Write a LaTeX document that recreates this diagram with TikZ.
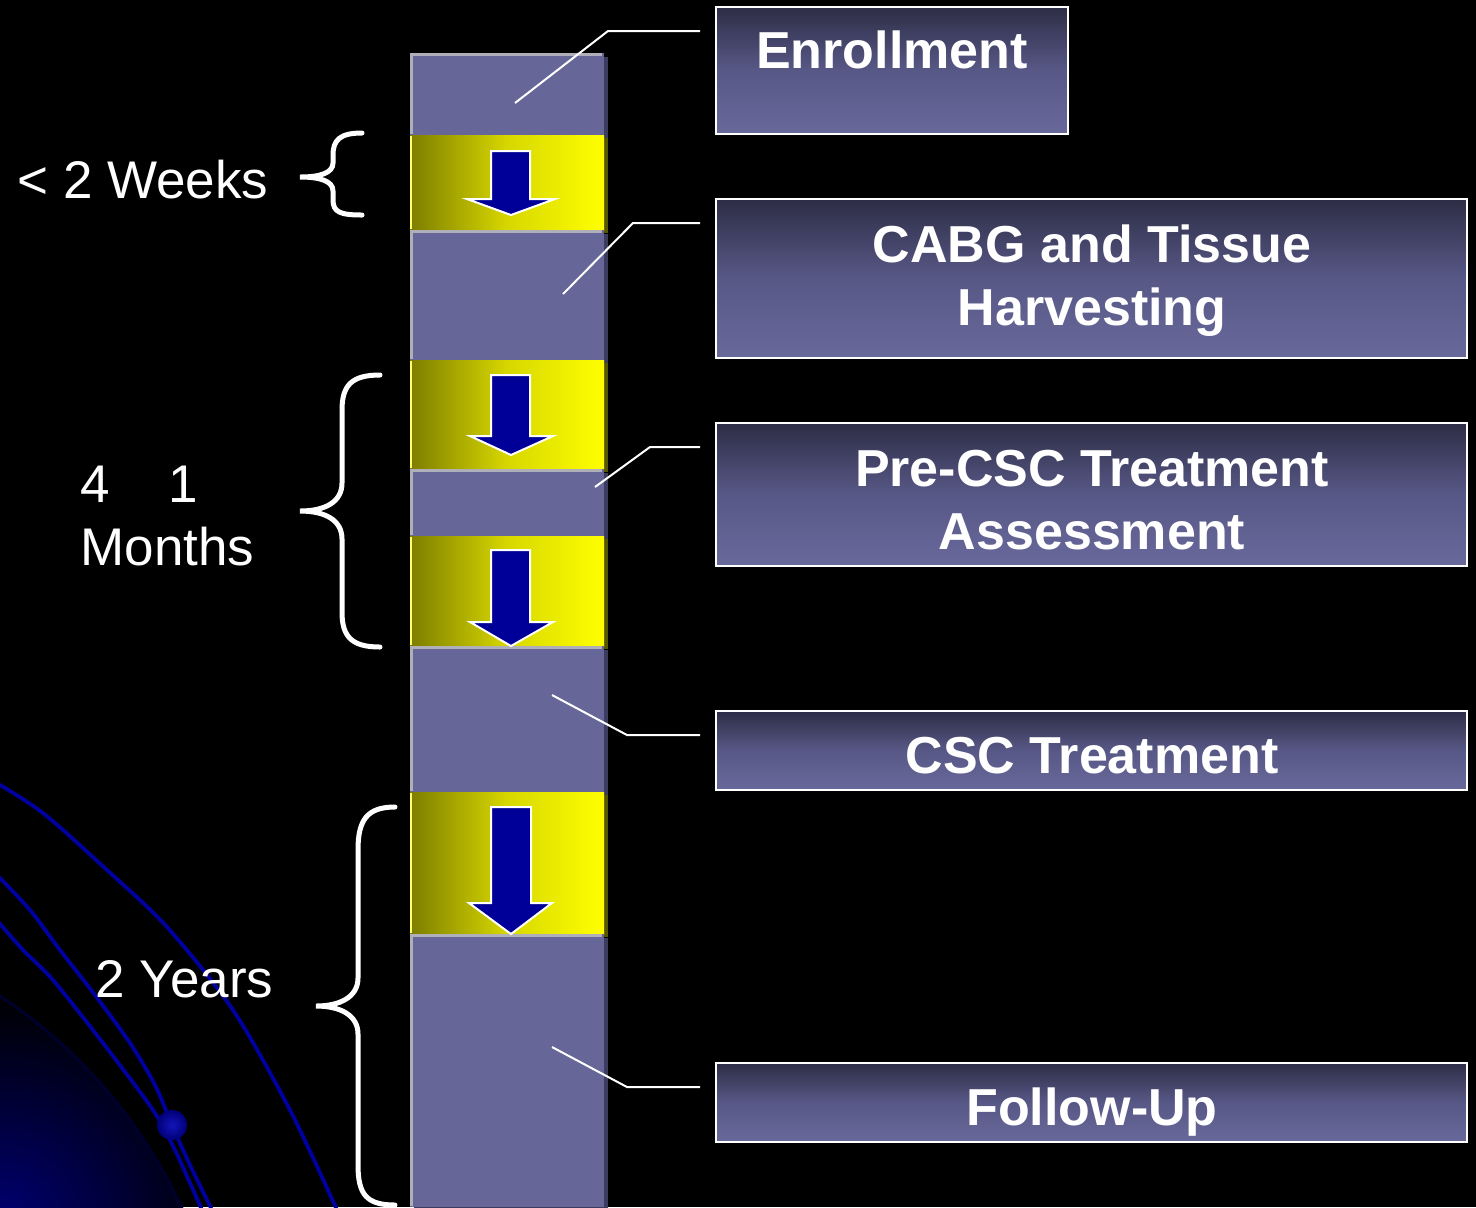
\documentclass[tikz,border=0pt]{standalone}
\usepackage{fontspec}
\setmainfont{Liberation Sans}
\usetikzlibrary{calc}
\definecolor{pblock}{RGB}{102,102,153}
\definecolor{pshadow}{RGB}{60,60,95}
\definecolor{phigh}{RGB}{175,175,185}
\definecolor{olive}{RGB}{125,125,0}
\definecolor{yel}{RGB}{255,255,0}
\definecolor{midyel}{RGB}{215,215,0}
\definecolor{arrblue}{RGB}{0,0,153}
\definecolor{boxtop}{RGB}{45,45,70}
\definecolor{boxmid}{RGB}{88,88,135}
\definecolor{boxbot}{RGB}{104,104,155}
\definecolor{orbit}{RGB}{0,0,160}
\definecolor{glow}{RGB}{0,0,115}
\definecolor{rim}{RGB}{0,0,45}
\tikzset{
  pblk/.style={fill=pblock},
  yblk/.style={left color=olive,right color=yel,middle color=midyel},
  darrow/.style={fill=arrblue,draw=white,line width=1pt,line join=miter},
  stagebox/.style={draw=white,line width=1pt,top color=boxtop,bottom color=boxbot,middle color=boxmid,inner sep=0pt},
  boxtext/.style={text=white,font=\fontsize{26}{31.5}\selectfont\bfseries,inner sep=0pt,anchor=base},
  lbl/.style={text=white,font=\fontsize{26.5}{31.5}\selectfont,inner sep=0pt,anchor=base west},
  conn/.style={draw=white,line width=1pt},
  brace/.style={draw=white,line width=2.5pt,line cap=round},
  orb/.style={draw=orbit,line width=1.9pt}
}
\begin{document}
\begin{tikzpicture}[x=0.5pt,y=-0.5pt]
\fill[black] (0,0) rectangle (1476,1207);
\useasboundingbox (0,0) rectangle (1476,1207);
% background planet glow and orbits
\begin{scope}
  \clip (0,0) rectangle (1476,1207);
  \begin{scope}
    \clip (-280,1420) circle (508);
    \shade[inner color=glow,outer color=black] (0,1225) circle (230);
  \end{scope}
  \draw[rim,line width=1.5pt] (-280,1420) circle (508);
  \draw[orb] plot[smooth] coordinates {(-5,782) (43,813) (107,870) (167,927) (233,1010) (290,1110) (337,1210)};
  \draw[orb] plot[smooth] coordinates {(-5,873) (30,910) (60,950) (95,995) (130,1043) (155,1085) (172,1125) (190,1165) (212,1210)};
  \draw[orb] plot[smooth] coordinates {(-5,918) (23,950) (53,980) (103,1043) (153,1110) (175,1150) (202,1210)};
  \shade[inner color={rgb,255:red,20;green,20;blue,185},outer color={rgb,255:red,0;green,0;blue,120}] (172,1125) circle (15);
\end{scope}
% column blocks (shadows first)
\foreach \a/\b in {53/135,230/360,469/536,646/792,934/1207}{
  \fill[pshadow] (414,\a+4) rectangle (608,\b+4);
}
\foreach \a/\b in {135/230,360/469,536/646,792/934}{
  \fill[olive!70!black] (414,\a+3) rectangle (608,\b+3);
}
\path[pblk] (410,53) rectangle (604,135);
\path[yblk] (410,135) rectangle (604,230);
\path[pblk] (410,230) rectangle (604,360);
\path[yblk] (410,360) rectangle (604,469);
\path[pblk] (410,469) rectangle (604,536);
\path[yblk] (410,536) rectangle (604,646);
\path[pblk] (410,646) rectangle (604,792);
\path[yblk] (410,792) rectangle (604,934);
\path[pblk] (410,934) rectangle (604,1207);
\foreach \a/\b in {53/135,230/360,469/536,646/792,934/1207}{
  \draw[phigh,line width=1.5pt] (411,\b-1) -- (411,\a+1) -- (602,\a+1);
}
\foreach \a/\b in {135/230,360/469,536/646,792/934}{
  \draw[yel!60!white,line width=1pt] (411,\a+1) -- (411,\b-1);
}
% arrows
\path[darrow] (491,151) -- (530,151) -- (530,199) -- (555,199) -- (511,215) -- (467,199) -- (491,199) -- cycle;
\path[darrow] (491,375) -- (530,375) -- (530,436) -- (553,436) -- (511,455) -- (470,436) -- (491,436) -- cycle;
\path[darrow] (491,550) -- (530,550) -- (530,622) -- (553,622) -- (511,646) -- (470,622) -- (491,622) -- cycle;
\path[darrow] (491,807) -- (531,807) -- (531,903) -- (552,903) -- (511,934) -- (469,903) -- (491,903) -- cycle;
% stage boxes
\node[stagebox,minimum width=176pt,minimum height=63.5pt] (enroll) at (892,70.5) {};
\node[stagebox,minimum width=375.5pt,minimum height=79.5pt] (cabg) at (1091.5,278.5) {};
\node[stagebox,minimum width=375.5pt,minimum height=71.5pt] (pre) at (1091.5,494.5) {};
\node[stagebox,minimum width=375.5pt,minimum height=39.5pt] (csc) at (1091.5,750.5) {};
\node[stagebox,minimum width=375.5pt,minimum height=39.5pt] (fu) at (1091.5,1102.5) {};
\node[boxtext] (enrollT) at (892,68) {Enrollment};
\node[boxtext] (cabgT1) at (1092,262) {CABG and Tissue};
\node[boxtext] (cabgT2) at (1092,325) {Harvesting};
\node[boxtext] (preT1) at (1092,486) {Pre-CSC Treatment};
\node[boxtext] (preT2) at (1092,549) {Assessment};
\node[boxtext] (cscT) at (1092,773) {CSC Treatment};
\node[boxtext] (fuT) at (1092,1125) {Follow-Up};
% connectors
\coordinate (c1s) at (515,103); \coordinate (c1e) at (700,31);
\coordinate (c2s) at (563,294); \coordinate (c2e) at (700,223);
\coordinate (c3s) at (595,487); \coordinate (c3e) at (700,447);
\coordinate (c4s) at (552,695); \coordinate (c4e) at (700,735);
\coordinate (c5s) at (552,1047); \coordinate (c5e) at (700,1087);
\draw[conn] (c1s) -- (608,31) -- (c1e);
\draw[conn] (c2s) -- (633,223) -- (c2e);
\draw[conn] (c3s) -- (650,447) -- (c3e);
\draw[conn] (c4s) -- (627,735) -- (c4e);
\draw[conn] (c5s) -- (627,1087) -- (c5e);
% braces
\draw[brace] (362,133) .. controls (340,133) and (333,140) .. (333,155) -- (333,163) .. controls (333,173) and (320,177) .. (300,177) .. controls (320,177) and (333,181) .. (333,191) -- (333,200) .. controls (333,212) and (340,215) .. (362,215);
\draw[brace] (380,375) .. controls (352,375) and (342,385) .. (342,410) -- (342,483) .. controls (342,502) and (325,511) .. (300,511) .. controls (325,511) and (342,520) .. (342,539) -- (342,612) .. controls (342,637) and (352,647) .. (380,647);
\draw[brace] (395,807) .. controls (367,807) and (358,820) .. (358,850) -- (358,978) .. controls (358,997) and (340,1006) .. (316,1006) .. controls (340,1006) and (358,1015) .. (358,1034) -- (358,1165) .. controls (358,1195) and (367,1205) .. (395,1205);
% labels
\node[lbl] (weeks) at (17,198) {< 2 Weeks};
\node[lbl] (four) at (80,502) {4};
\node[lbl] (one) at (168,502) {1};
\node[lbl] (months) at (80,565) {Months};
\node[lbl] (years) at (95,997) {2 Years};
\end{tikzpicture}
\end{document}
